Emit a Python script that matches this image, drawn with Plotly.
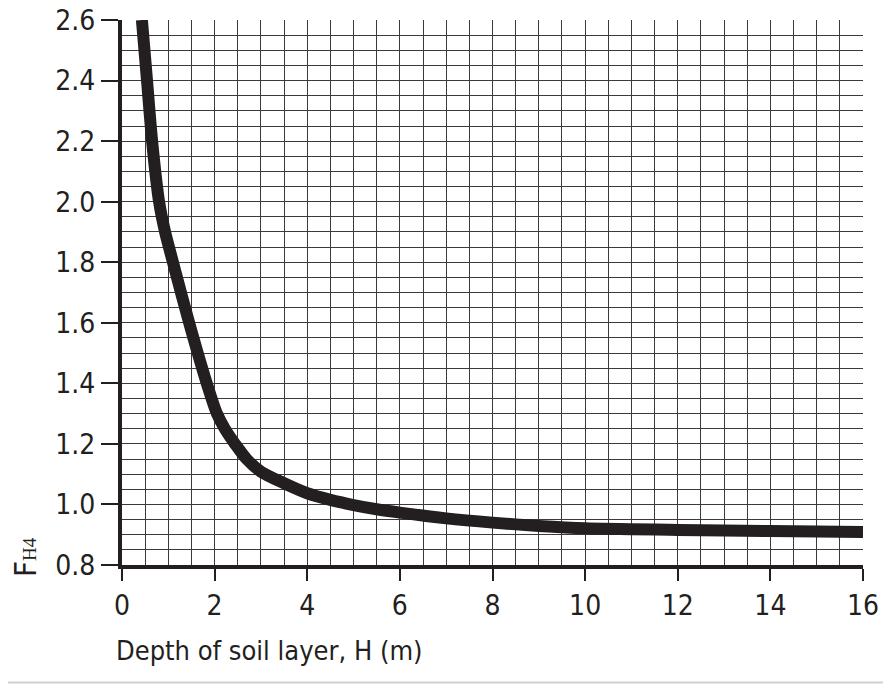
import plotly.graph_objects as go

# Data
depth_h = [0.43, 0.54, 0.65, 0.80, 0.93, 1.10, 1.45, 1.83, 2.05, 2.22, 2.44, 2.69, 3.0, 3.5,
           4.0, 4.5, 5.0, 5.5, 6.0, 7.0, 8.0, 9.0, 10.0, 12.0, 14.0, 16.0]
f_h4 = [2.6, 2.4, 2.2, 2.0, 1.9, 1.8, 1.6, 1.4, 1.30, 1.25, 1.20, 1.15, 1.108, 1.070,
        1.037, 1.015, 0.998, 0.984, 0.973, 0.954, 0.940, 0.929, 0.921, 0.916, 0.912, 0.909]

x_ticks = [0, 2, 4, 6, 8, 10, 12, 14, 16]
y_ticks = [0.8, 1.0, 1.2, 1.4, 1.6, 1.8, 2.0, 2.2, 2.4, 2.6]
y_tick_labels = ["0.8", "1.0", "1.2", "1.4", "1.6", "1.8", "2.0", "2.2", "2.4", "2.6"]

INK = "#231f20"
GRID = "#3a3a3a"
FONT = "DejaVu Sans Condensed, Liberation Sans Narrow, sans-serif"

fig = go.Figure()
fig.add_trace(go.Scatter(x=depth_h, y=f_h4, mode="lines",
                         line=dict(color=INK, width=12, shape="spline", smoothing=0.8),
                         hoverinfo="skip", showlegend=False))

OFF = 8  # page body margin
W, H = 891, 684
# target plot area in screen pixels: x 122..863, y 20..565
L = 122 - OFF
T = 20 - OFF
R = W - (863 - OFF)
B = H - (565 - OFF)
pw = W - L - R
ph = H - T - B


def px(xs):
    return (xs - OFF - L) / pw


def py(ys):
    return (H - B - (ys - OFF)) / ph


fig.update_layout(
    width=W, height=H,
    margin=dict(l=L, r=R, t=T, b=B, pad=0, autoexpand=False),
    paper_bgcolor="white", plot_bgcolor="white",
    font=dict(family=FONT, color=INK, size=28),
    xaxis=dict(range=[0, 16.0001], tickvals=x_ticks, ticktext=[str(v) for v in x_ticks],
               showgrid=True, gridcolor=GRID, gridwidth=1.4, automargin=False,
               minor=dict(dtick=0.5, tick0=0, showgrid=True, gridcolor=GRID, gridwidth=1.2),
               zeroline=False, showline=True, linecolor=INK, linewidth=4,
               ticks="outside", ticklen=12, tickwidth=1.5, tickcolor=INK,
               ticklabeloverflow="allow",
               tickfont=dict(size=28, family=FONT, color=INK), fixedrange=True),
    yaxis=dict(range=[0.8, 2.6001], tickvals=y_ticks, ticktext=y_tick_labels,
               showgrid=True, gridcolor=GRID, gridwidth=1.4, automargin=False,
               minor=dict(dtick=0.05, tick0=0.8, showgrid=True, gridcolor=GRID, gridwidth=1.2),
               zeroline=False, showline=True, linecolor=INK, linewidth=4,
               ticks="outside", ticklen=17, tickwidth=1.5, tickcolor=INK,
               ticklabeloverflow="allow",
               tickfont=dict(size=28, family=FONT, color=INK), fixedrange=True),
)

# x-axis title
fig.add_annotation(text="Depth of soil layer, H (m)", xref="paper", yref="paper",
                   x=px(114), y=py(650), xanchor="left", yanchor="middle",
                   showarrow=False, font=dict(size=27, family=FONT, color=INK))

# y-axis label F_H4
fig.add_annotation(text="F<span style='font-family:Liberation Serif, serif;font-size:19px'>H4</span>",
                   xref="paper", yref="paper",
                   x=px(25), y=py(557), xanchor="center", yanchor="middle",
                   textangle=-90, showarrow=False, font=dict(size=31, family=FONT, color=INK))

# faint page border lines (bottom and right)
fig.add_shape(type="line", xref="paper", yref="paper",
              x0=px(0), x1=px(890), y0=py(682.5), y1=py(682.5),
              line=dict(color="#d0d0d0", width=2))
fig.add_shape(type="line", xref="paper", yref="paper",
              x0=px(890), x1=px(890), y0=py(684), y1=py(8),
              line=dict(color="#d0d0d0", width=2))

fig.write_html("out.html")
